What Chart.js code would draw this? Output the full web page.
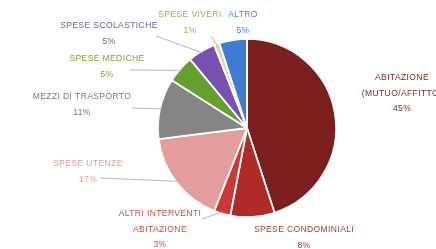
<!DOCTYPE html>
<html>
<head>
<meta charset="utf-8">
<script src="https://cdn.jsdelivr.net/npm/chart.js@4"></script>
<style>
  html, body { margin: 0; padding: 0; background: #fff; }
  #wrap { width: 436px; height: 249px; }
</style>
</head>
<body>
<div id="wrap"><canvas id="pieChart" width="436" height="249"></canvas></div>
<script>
// dati
const categories = [
    ["ABITAZIONE", "(MUTUO/AFFITTO)"],
    ["SPESE CONDOMINIALI"],
    ["ALTRI INTERVENTI", "ABITAZIONE"],
    ["SPESE UTENZE"],
    ["MEZZI DI TRASPORTO"],
    ["SPESE MEDICHE"],
    ["SPESE SCOLASTICHE"],
    ["SPESE VIVERI"],
    ["ALTRO"]
];
const percentages = [45, 8, 3, 17, 11, 5, 5, 1, 5];

const sliceColors = ["#7b1e1e", "#b02a28", "#c93a36", "#e49c9c", "#858585", "#63a02c", "#7a50b0", "#dcdc98", "#3d7ccf"];
const labelColors = ["#862222", "#a03e2c", "#d04a45", "#e59a9a", "#7a7a7a", "#8c9c32", "#6c5fa6", "#b2a646", "#4a80d2"];

// posizione delle etichette (centro del testo, prima riga) e fine della linea guida
const labelPos = [
    [402, 78], [304, 230], [160, 214], [88, 164], [82, 97],
    [107, 59], [109, 26], [190, 15], [243, 15]
];
const leaderEnd = [null, null, [202, 219], [100, 178], [132, 108], [130, 70], [156, 36], [211, 36], null];

const pieLabels = {
    id: "pieLabels",
    afterDatasetsDraw(chart) {
        const ctx = chart.ctx;
        const arcs = chart.getDatasetMeta(0).data;
        ctx.save();
        ctx.font = "8.5px 'Liberation Sans', Arial, sans-serif";
        ctx.letterSpacing = "0.4px";
        ctx.textAlign = "center";
        ctx.textBaseline = "middle";
        arcs.forEach((arc, i) => {
            const p = arc.getProps(["x", "y", "startAngle", "endAngle", "outerRadius"], true);
            const mid = (p.startAngle + p.endAngle) / 2;
            if (leaderEnd[i]) {
                const sx = p.x + Math.cos(mid) * (p.outerRadius - 2);
                const sy = p.y + Math.sin(mid) * (p.outerRadius - 2);
                ctx.strokeStyle = "#b0b6c0";
                ctx.lineWidth = 1;
                ctx.beginPath();
                ctx.moveTo(sx, sy);
                ctx.lineTo(leaderEnd[i][0], leaderEnd[i][1]);
                ctx.stroke();
            }
            ctx.fillStyle = labelColors[i];
            const lines = categories[i].concat([percentages[i] + "%"]);
            lines.forEach((t, k) => {
                ctx.fillText(t, labelPos[i][0], labelPos[i][1] + k * 15.5);
            });
        });
        ctx.restore();
    }
};

new Chart(document.getElementById("pieChart").getContext("2d"), {
    type: "pie",
    data: {
        labels: categories.map(c => c.join(" ")),
        datasets: [{
            data: percentages,
            backgroundColor: sliceColors,
            borderColor: "#ffffff",
            borderWidth: 1.8
        }]
    },
    options: {
        responsive: false,
        animation: false,
        layout: { padding: { left: 157, right: 99, top: 38, bottom: 31 } },
        plugins: {
            legend: { display: false },
            tooltip: { enabled: false }
        }
    },
    plugins: [pieLabels]
});
</script>
</body>
</html>
